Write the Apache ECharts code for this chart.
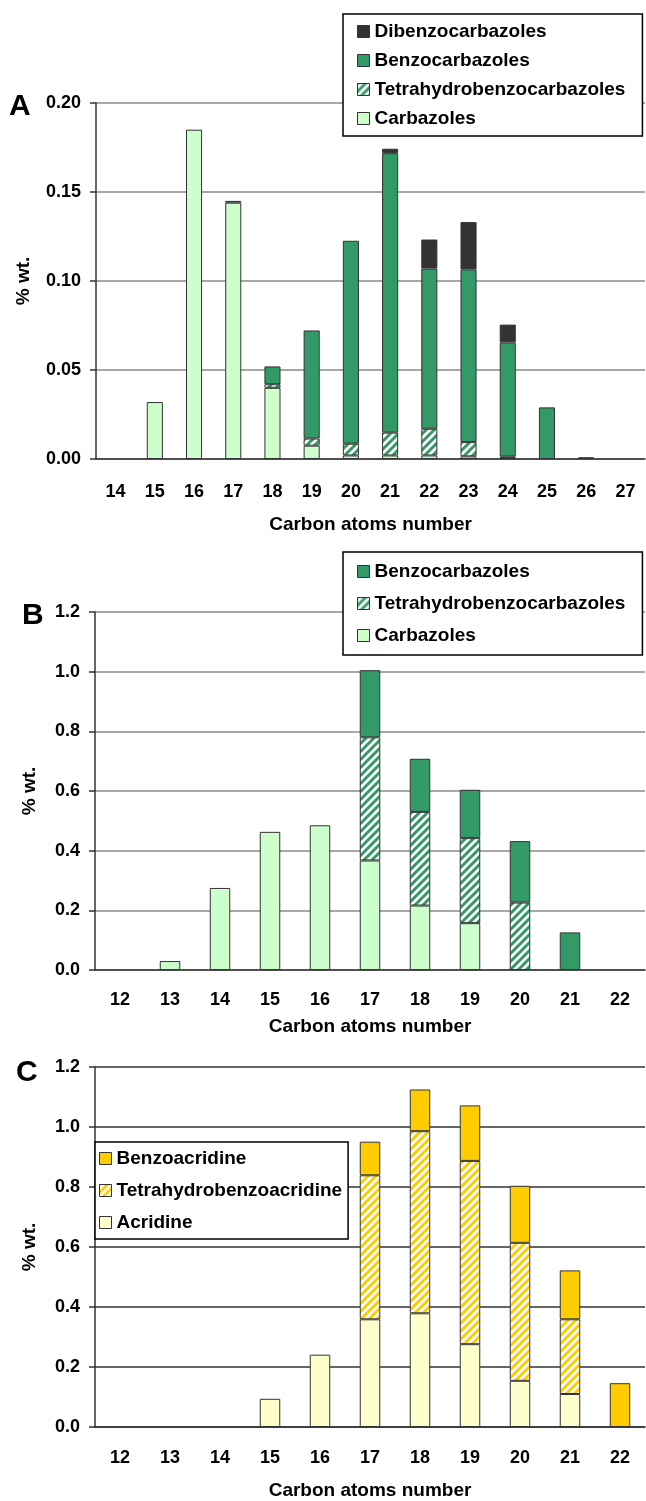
<!DOCTYPE html>
<html>
<head>
<meta charset="utf-8">
<script src="https://cdn.jsdelivr.net/npm/echarts@6/dist/echarts.min.js"></script>
<style>
  html, body { margin: 0; padding: 0; background: #fff; }
  #chart { width: 646px; height: 1501px; }
</style>
</head>
<body>
<div id="chart"></div>
<script>
// ---- Panel A: carbazole families (% wt.) by carbon number ----
const carbonA = ['14', '15', '16', '17', '18', '19', '20', '21', '22', '23', '24', '25', '26', '27'];
const carbazolesA = [0, 0.032, 0.185, 0.144, 0.040, 0.0075, 0.002, 0.002, 0.002, 0.0015, 0.0005, 0, 0, 0];
const tetrahydroA = [0, 0, 0, 0, 0.002, 0.004, 0.0066, 0.0128, 0.015, 0.008, 0.001, 0, 0, 0];
const benzoA = [0, 0, 0, 0.001, 0.010, 0.0607, 0.114, 0.157, 0.090, 0.097, 0.064, 0.029, 0.001, 0];
const dibenzoA = [0, 0, 0, 0, 0, 0, 0, 0.0025, 0.0163, 0.0266, 0.010, 0, 0, 0];
const ticksA = [0, 0.05, 0.10, 0.15, 0.20];

// ---- Panel B: carbazole families (% wt.) ----
const carbonB = ['12', '13', '14', '15', '16', '17', '18', '19', '20', '21', '22'];
const carbazolesB = [0, 0.030, 0.275, 0.463, 0.485, 0.367, 0.216, 0.157, 0, 0, 0];
const tetrahydroB = [0, 0, 0, 0, 0, 0.413, 0.314, 0.285, 0.226, 0, 0];
const benzoB = [0, 0, 0, 0, 0, 0.225, 0.178, 0.162, 0.206, 0.126, 0];
const ticksB = [0, 0.2, 0.4, 0.6, 0.8, 1.0, 1.2];

// ---- Panel C: acridine families (% wt.) ----
const carbonC = ['12', '13', '14', '15', '16', '17', '18', '19', '20', '21', '22'];
const acridineC = [0, 0, 0, 0.094, 0.241, 0.359, 0.379, 0.276, 0.154, 0.110, 0];
const tetrahydroC = [0, 0, 0, 0, 0, 0.480, 0.607, 0.611, 0.460, 0.249, 0];
const benzoC = [0, 0, 0, 0, 0, 0.112, 0.139, 0.185, 0.190, 0.163, 0.146];
const ticksC = [0, 0.2, 0.4, 0.6, 0.8, 1.0, 1.2];

const FONT = '"Liberation Sans", Arial, sans-serif';
const GREEN_LIGHT = '#ccffcc';
const GREEN = '#339966';
const DARK = '#333333';
const YELLOW_LIGHT = '#ffffcc';
const YELLOW = '#ffcc00';

// white tile with "/" diagonal stripes
function hatch(color) {
  const c = document.createElement('canvas');
  c.width = 8; c.height = 8;
  const g = c.getContext('2d');
  g.fillStyle = '#ffffff';
  g.fillRect(0, 0, 8, 8);
  g.strokeStyle = color;
  g.lineWidth = 3;
  g.beginPath();
  g.moveTo(-2, 10); g.lineTo(10, -2);
  g.moveTo(-2, 2); g.lineTo(2, -2);
  g.moveTo(6, 10); g.lineTo(10, 6);
  g.stroke();
  return { image: c, repeat: 'repeat' };
}

function bar(name, values, color, idx) {
  return {
    name: name,
    type: 'bar',
    stack: 'total' + idx,
    xAxisIndex: idx,
    yAxisIndex: idx,
    barWidth: '41%',
    data: values.map(v => (v === 0 ? null : v)),
    itemStyle: { color: color, borderColor: '#333', borderWidth: 1 },
    emphasis: { disabled: true }
  };
}

function xAxis(idx, cats, margin, nameGap) {
  return {
    type: 'category',
    gridIndex: idx,
    data: cats,
    axisLine: { lineStyle: { color: '#333', width: 1.5 } },
    axisTick: { length: 7, lineStyle: { color: '#333', width: 1.5 } },
    axisLabel: { color: '#000', fontSize: 18, fontWeight: 'bold', fontFamily: FONT, margin: margin },
    name: 'Carbon atoms number',
    nameLocation: 'middle',
    nameGap: nameGap,
    nameTextStyle: { color: '#000', fontSize: 19, fontWeight: 'bold', fontFamily: FONT }
  };
}

function yAxis(idx, ticks, digits, gridColor, nameGap) {
  return {
    type: 'value',
    gridIndex: idx,
    min: ticks[0],
    max: ticks[ticks.length - 1],
    interval: ticks[1] - ticks[0],
    axisLine: { show: true, lineStyle: { color: '#333', width: 1.5 } },
    axisTick: { show: true, length: 6, lineStyle: { color: '#333', width: 1.5 } },
    axisLabel: {
      color: '#000', fontSize: 18, fontWeight: 'bold', fontFamily: FONT, margin: 15,
      formatter: v => v.toFixed(digits)
    },
    splitLine: { lineStyle: { color: gridColor, width: 1.5 } },
    name: '% wt.',
    nameLocation: 'middle',
    nameGap: nameGap,
    nameTextStyle: { color: '#000', fontSize: 19, fontWeight: 'bold', fontFamily: FONT }
  };
}

function legend(left, top, names, padding, gap) {
  return {
    orient: 'vertical',
    left: left,
    top: top,
    data: names,
    icon: 'rect',
    itemWidth: 12,
    itemHeight: 12,
    itemGap: gap,
    padding: padding,
    backgroundColor: '#ffffff',
    borderColor: '#000000',
    borderWidth: 1.5,
    selectedMode: false,
    itemStyle: { borderColor: '#333', borderWidth: 1 },
    textStyle: { color: '#000', fontSize: 19, fontWeight: 'bold', fontFamily: FONT }
  };
}

const chart = echarts.init(document.getElementById('chart'), null, { renderer: 'canvas' });

chart.setOption({
  animation: false,
  backgroundColor: '#ffffff',
  grid: [
    { left: 96, top: 103, right: 1, height: 356 },
    { left: 95, top: 612, right: 1, height: 358 },
    { left: 95, top: 1067, right: 1, height: 362 }
  ],
  xAxis: [
    xAxis(0, carbonA, 24, 56),
    xAxis(1, carbonB, 21, 47),
    xAxis(2, carbonC, 22, 54)
  ],
  yAxis: [
    yAxis(0, ticksA, 2, '#8a8a8a', 63),
    yAxis(1, ticksB, 1, '#8a8a8a', 56),
    yAxis(2, ticksC, 1, '#333333', 56)
  ],
  legend: [
    legend(343, 14, ['Dibenzocarbazoles', 'Benzocarbazoles', 'Tetrahydrobenzocarbazoles', 'Carbazoles'], [8, 17, 8, 14], 10),
    legend(343, 552, ['Benzocarbazoles', 'Tetrahydrobenzocarbazoles', 'Carbazoles'], [10, 17, 10, 14], 13),
    legend(95, 1142, ['Benzoacridine', 'Tetrahydrobenzoacridine', 'Acridine'], [7, 6, 7, 4], 13)
  ],
  graphic: [
    { type: 'text', left: 9, top: 92, style: { text: 'A', fontSize: 30, fontWeight: 'bold', fontFamily: FONT, fill: '#000' } },
    { type: 'text', left: 22, top: 601, style: { text: 'B', fontSize: 30, fontWeight: 'bold', fontFamily: FONT, fill: '#000' } },
    { type: 'text', left: 16, top: 1058, style: { text: 'C', fontSize: 30, fontWeight: 'bold', fontFamily: FONT, fill: '#000' } }
  ],
  series: [
    bar('Carbazoles', carbazolesA, GREEN_LIGHT, 0),
    bar('Tetrahydrobenzocarbazoles', tetrahydroA, hatch(GREEN), 0),
    bar('Benzocarbazoles', benzoA, GREEN, 0),
    bar('Dibenzocarbazoles', dibenzoA, DARK, 0),

    bar('Carbazoles', carbazolesB, GREEN_LIGHT, 1),
    bar('Tetrahydrobenzocarbazoles', tetrahydroB, hatch(GREEN), 1),
    bar('Benzocarbazoles', benzoB, GREEN, 1),

    bar('Acridine', acridineC, YELLOW_LIGHT, 2),
    bar('Tetrahydrobenzoacridine', tetrahydroC, hatch(YELLOW), 2),
    bar('Benzoacridine', benzoC, YELLOW, 2)
  ]
});
</script>
</body>
</html>
